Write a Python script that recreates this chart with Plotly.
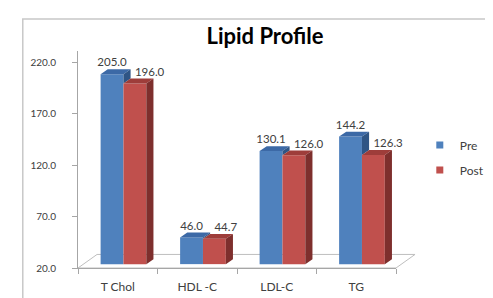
import plotly.graph_objects as go

categories = ["T Chol", "HDL -C", "LDL-C", "TG"]
pre_values = [205.0, 46.0, 130.1, 144.2]
post_values = [196.0, 44.7, 126.0, 126.3]
y_ticks = [20, 70, 120, 170, 220]
y_min, y_max = 20, 231.3

# geometry (style constants)
W_PX, H_PX = 334, 224                       # plot area pixel size
n = len(categories)
px_x = W_PX / n                             # pixels per category unit
px_y = H_PX / (y_max - y_min)               # pixels per value unit
bw = 24 / px_x                              # bar width (category units)
dx, dy = 7.5 / px_x, 5 / px_y               # 3D depth vector
sx, sy = 6 / px_x, 4 / px_y                 # bar plane offset

PRE, PRE_TOP, PRE_SIDE = "#4F81BD", "#3C69A6", "#2F5585"
POST, POST_TOP, POST_SIDE = "#C0504D", "#9E3D3A", "#7E2F2D"
FONT = "Lato"

xs = list(range(n))
pre_l = [x - bw for x in xs]
pre_r = xs
post_l = xs
post_r = [x + bw for x in xs]


def polys(quads):
    px, py = [], []
    for q in quads:
        for (a, b) in q + [q[0]]:
            px.append(a)
            py.append(b)
        px.append(None)
        py.append(None)
    return px, py


fig = go.Figure()

# front faces
fig.add_trace(go.Bar(x=xs, y=[v - y_min for v in pre_values], base=y_min, width=bw, offset=-bw,
                     marker=dict(color=PRE, line=dict(width=0)), xaxis="x2", yaxis="y2",
                     showlegend=False, hoverinfo="skip"))
fig.add_trace(go.Bar(x=xs, y=[v - y_min for v in post_values], base=y_min, width=bw, offset=0,
                     marker=dict(color=POST, line=dict(width=0)), xaxis="x2", yaxis="y2",
                     showlegend=False, hoverinfo="skip"))

# pre top faces
qx, qy = polys([[(l, v), (l + dx, v + dy), (r + dx, v + dy), (r, v)]
                for l, r, v in zip(pre_l, pre_r, pre_values)])
fig.add_trace(go.Scatter(x=qx, y=qy, fill="toself", fillcolor=PRE_TOP, mode="lines",
                         line=dict(width=0, color=PRE_TOP), xaxis="x2", yaxis="y2",
                         showlegend=False, hoverinfo="skip"))
# pre side faces (visible part above the post bar)
qx, qy = polys([[(r, min(vp, vq)), (r + dx, min(vp, vq) + dy), (r + dx, vp + dy), (r, vp)]
                for r, vp, vq in zip(pre_r, pre_values, post_values)])
fig.add_trace(go.Scatter(x=qx, y=qy, fill="toself", fillcolor=PRE_SIDE, mode="lines",
                         line=dict(width=0, color=PRE_SIDE), xaxis="x2", yaxis="y2",
                         showlegend=False, hoverinfo="skip"))
# post top faces
qx, qy = polys([[(l, v), (l + dx, v + dy), (r + dx, v + dy), (r, v)]
                for l, r, v in zip(post_l, post_r, post_values)])
fig.add_trace(go.Scatter(x=qx, y=qy, fill="toself", fillcolor=POST_TOP, mode="lines",
                         line=dict(width=0, color=POST_TOP), xaxis="x2", yaxis="y2",
                         showlegend=False, hoverinfo="skip"))
# post side faces
qx, qy = polys([[(r, y_min), (r + dx, y_min + dy), (r + dx, v + dy), (r, v)]
                for r, v in zip(post_r, post_values)])
fig.add_trace(go.Scatter(x=qx, y=qy, fill="toself", fillcolor=POST_SIDE, mode="lines",
                         line=dict(width=0, color=POST_SIDE), xaxis="x2", yaxis="y2",
                         showlegend=False, hoverinfo="skip"))

# data labels
fig.add_trace(go.Scatter(x=[x - bw / 2 for x in xs], y=[v + dy for v in pre_values],
                         text=[f"{v:.1f}" for v in pre_values], mode="text",
                         textposition="top center", cliponaxis=False,
                         textfont=dict(family=FONT, size=11.5, color="#404040"),
                         xaxis="x2", yaxis="y2", showlegend=False, hoverinfo="skip"))
fig.add_trace(go.Scatter(x=[x + bw / 2 for x in xs], y=[v + dy for v in post_values],
                         text=[f"{v:.1f}" for v in post_values], mode="text",
                         textposition="top right", cliponaxis=False,
                         textfont=dict(family=FONT, size=11.5, color="#404040"),
                         xaxis="x2", yaxis="y2", showlegend=False, hoverinfo="skip"))

# legend entries
fig.add_trace(go.Scatter(x=[None], y=[None], mode="markers", name="Pre", legendgroup="a",
                         marker=dict(symbol="square", size=7, color=PRE)))
fig.add_trace(go.Scatter(x=[None], y=[None], mode="markers", name="Post", legendgroup="b",
                         marker=dict(symbol="square", size=7, color=POST)))

fx, fy = 20 / W_PX, 14 / H_PX
fig.update_layout(
    width=493, height=298,
    margin=dict(l=70, r=493 - 70 - W_PX, t=43, b=298 - 43 - H_PX),
    paper_bgcolor="white", plot_bgcolor="white",
    font=dict(family=FONT, color="#404040"),
    title=dict(text="<b>Lipid Profile</b>", x=257 / 493, xanchor="center", xref="container",
               y=1 - 28 / 298, yanchor="middle", yref="container",
               font=dict(family=FONT, size=22, color="black")),
    xaxis=dict(type="linear", range=[-0.5, n - 0.5], tickvals=xs, ticktext=categories,
               ticks="", showgrid=False, zeroline=False, showline=True, linecolor="#A6A6A6",
               tickfont=dict(family=FONT, size=12, color="#404040"), ticklabelstandoff=8,
               minor=dict(tickmode="array", tickvals=[i - 0.5 for i in range(n + 1)],
                          ticks="outside", ticklen=5, tickcolor="#A6A6A6", showgrid=False)),
    yaxis=dict(range=[y_min, y_max], tickvals=y_ticks, tickformat=".1f", ticks="outside",
               ticklen=5, tickcolor="#A6A6A6", showgrid=False, zeroline=False, showline=True,
               linecolor="#A6A6A6", tickfont=dict(family=FONT, size=10, color="#404040"),
               ticklabelstandoff=14),
    xaxis2=dict(overlaying="x", range=[-0.5 - sx, n - 0.5 - sx], visible=False),
    yaxis2=dict(overlaying="y", range=[y_min - sy, y_max - sy], visible=False),
    barmode="overlay",
    legend=dict(x=(429 - 70) / W_PX, y=(267 - 125) / H_PX, xanchor="left", yanchor="top",
                font=dict(family=FONT, size=12, color="#404040"), tracegroupgap=6,
                itemwidth=30, bgcolor="rgba(0,0,0,0)"),
    shapes=[
        dict(type="path", xref="paper", yref="paper",
             path=f"M 0,0 L {fx},{fy} L {1 + fx},{fy} L 1,0 Z",
             line=dict(color="#BFBFBF", width=1), fillcolor="white", layer="below"),
        dict(type="rect", xref="paper", yref="paper",
             x0=(12 - 70) / W_PX, x1=2, y0=-1, y1=(267 - 10) / H_PX,
             line=dict(color="#C8C8C8", width=1.5), fillcolor="rgba(0,0,0,0)", layer="below"),
    ],
)

fig.write_html("out.html")
